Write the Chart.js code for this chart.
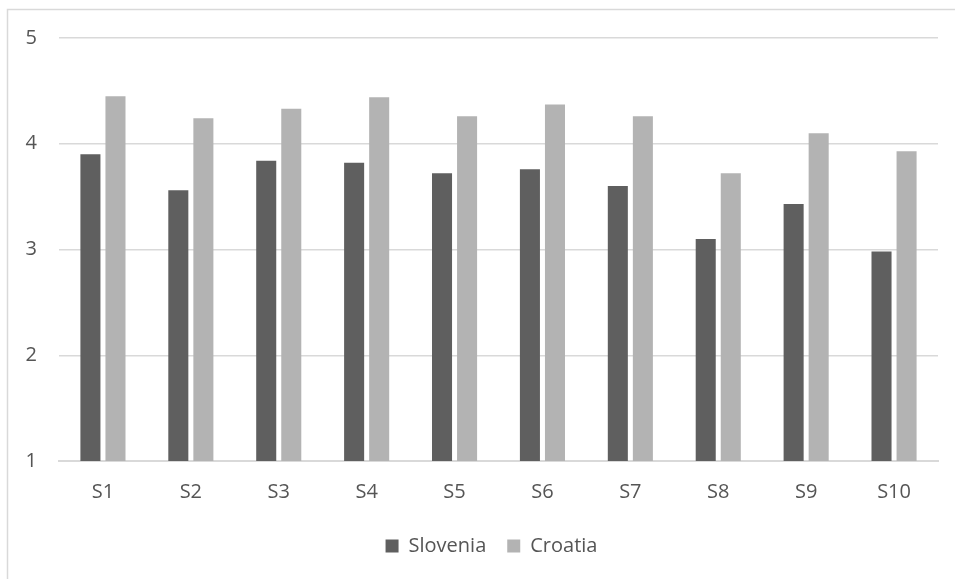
<!DOCTYPE html>
<html>
<head>
<meta charset="utf-8">
<script src="https://cdn.jsdelivr.net/npm/chart.js@4/dist/chart.umd.min.js"></script>
<style>
  html, body { margin: 0; padding: 0; background: #ffffff; }
  #wrap { width: 955px; height: 579px; position: relative; }
</style>
</head>
<body>
<div id="wrap"><canvas id="c" width="955" height="579"></canvas></div>
<script>
// Categories and series
const categories = ['S1', 'S2', 'S3', 'S4', 'S5', 'S6', 'S7', 'S8', 'S9', 'S10'];
const slovenia = [3.90, 3.56, 3.84, 3.82, 3.72, 3.76, 3.60, 3.10, 3.43, 2.98];
const croatia  = [4.45, 4.24, 4.33, 4.44, 4.26, 4.37, 4.26, 3.72, 4.10, 3.93];
const yTicks = [1, 2, 3, 4, 5];

const textColor = '#555555';
const gridColor = '#d9d9d9';
const font = { family: '"Open Sans", "Noto Sans", sans-serif', size: 20 };

// Thin frame around the whole chart
const framePlugin = {
  id: 'frame',
  beforeDraw(chart) {
    const ctx = chart.ctx;
    ctx.save();
    ctx.fillStyle = '#ffffff';
    ctx.fillRect(0, 0, chart.width, chart.height);
    ctx.strokeStyle = gridColor;
    ctx.lineWidth = 1.5;
    ctx.strokeRect(7.5, 9.5, chart.width + 20, chart.height + 20);
    ctx.restore();
  }
};

// Centre the legend under the plot area rather than the whole canvas
const legendShift = {
  id: 'legendShift',
  afterLayout(chart) {
    if (chart.legend) {
      chart.legend.left = 45;
      chart.legend.right = chart.chartArea.right;
    }
  }
};

new Chart(document.getElementById('c'), {
  type: 'bar',
  data: {
    labels: categories,
    datasets: [
      { label: 'Slovenia', data: slovenia, backgroundColor: '#5f5f5f',
        categoryPercentage: 0.57, barPercentage: 0.8 },
      { label: 'Croatia', data: croatia, backgroundColor: '#b3b3b3',
        categoryPercentage: 0.57, barPercentage: 0.8 }
    ]
  },
  options: {
    responsive: false,
    animation: false,
    devicePixelRatio: 1,
    layout: { padding: { top: 38, right: 17, bottom: 13, left: 0 } },
    scales: {
      x: {
        grid: { display: false, drawTicks: false },
        border: { display: true, color: gridColor, width: 2 },
        ticks: { color: textColor, font: font, padding: 19, maxRotation: 0 },
        afterFit(scale) { scale.height = 54; }
      },
      y: {
        min: 1,
        max: 5,
        grid: { color: gridColor, lineWidth: 1.5, drawTicks: false },
        border: { display: false },
        afterBuildTicks(scale) { scale.ticks = yTicks.map(v => ({ value: v })); },
        ticks: { color: textColor, font: font, padding: 22 },
        afterFit(scale) { scale.width = 59; }
      }
    },
    plugins: {
      legend: {
        position: 'bottom',
        labels: {
          color: textColor,
          font: font,
          boxWidth: 13,
          boxHeight: 13,
          padding: 21
        }
      },
      tooltip: { enabled: false }
    }
  },
  plugins: [framePlugin, legendShift]
});
</script>
</body>
</html>
